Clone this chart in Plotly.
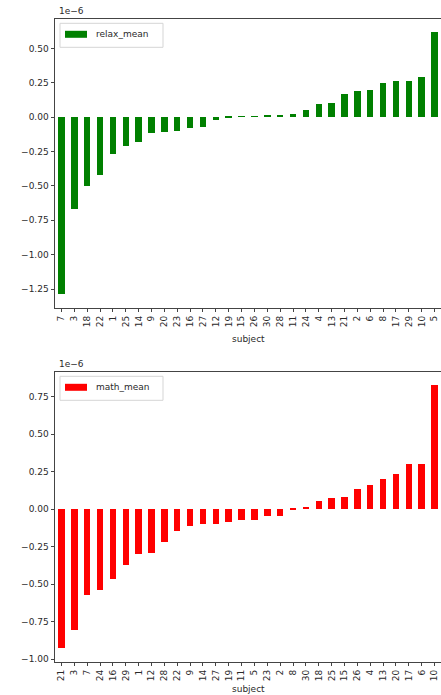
import plotly.graph_objects as go
from plotly.subplots import make_subplots

# Per-subject means, sorted ascending, in units of 1e-6
relax_subjects = ["7", "3", "18", "22", "1", "25", "14", "9", "20", "23",
                  "16", "27", "12", "19", "15", "26", "30", "28", "11", "24",
                  "4", "13", "21", "2", "6", "8", "17", "29", "10", "5"]
relax_mean = [-1.29, -0.67, -0.50, -0.42, -0.27, -0.21, -0.18, -0.12, -0.11, -0.10,
              -0.08, -0.075, -0.025, -0.003, 0.003, 0.006, 0.009, 0.012, 0.018, 0.05,
              0.094, 0.10, 0.167, 0.19, 0.193, 0.246, 0.263, 0.258, 0.29, 0.616]

math_subjects = ["21", "3", "7", "24", "16", "29", "1", "12", "28", "22",
                 "9", "14", "27", "19", "11", "5", "23", "2", "8", "30",
                 "18", "25", "15", "26", "4", "13", "20", "17", "6", "10"]
math_mean = [-0.93, -0.81, -0.573, -0.542, -0.468, -0.372, -0.301, -0.294, -0.223, -0.145,
             -0.112, -0.10, -0.10, -0.085, -0.078, -0.074, -0.051, -0.045, -0.006, 0.008,
             0.049, 0.071, 0.078, 0.129, 0.16, 0.20, 0.229, 0.296, 0.30, 0.824]

relax_ticks = [-1.25, -1.00, -0.75, -0.50, -0.25, 0.00, 0.25, 0.50]
math_ticks = [-1.00, -0.75, -0.50, -0.25, 0.00, 0.25, 0.50, 0.75]

W, H = 441, 695
ML, MR, MT, MB = 55, 0, 19, 33
PW, PH = W - ML - MR, H - MT - MB

TXT = "#2a2a2a"
LINE = "#444444"
FONT = "DejaVu Sans"

fig = make_subplots(rows=2, cols=1, vertical_spacing=0.1)

panels = [
    dict(row=1, subjects=relax_subjects, values=relax_mean, color="#008000",
         name="relax_mean", ticks=relax_ticks, top=19.3, bottom=307.7, title_shift=-24),
    dict(row=2, subjects=math_subjects, values=math_mean, color="#ff0000",
         name="math_mean", ticks=math_ticks, top=372.3, bottom=661.7, title_shift=-20),
]

for i, p in enumerate(panels):
    fig.add_trace(
        go.Bar(x=p["subjects"], y=p["values"], marker_color=p["color"],
               marker_line_width=0, width=0.5, name=p["name"], showlegend=False),
        row=p["row"], col=1,
    )
    lo, hi = min(p["values"]), max(p["values"])
    pad = 0.05 * (hi - lo)
    ax = dict(showline=True, mirror=True, linecolor=LINE, linewidth=1,
              ticks="outside", ticklen=3.5, tickwidth=0.8, tickcolor=LINE,
              showgrid=False, zeroline=False,
              tickfont=dict(family=FONT, size=9, color=TXT))
    fig.update_yaxes(range=[lo - pad, hi + pad], tickvals=p["ticks"],
                     tickformat=".2f",
                     domain=[(H - MB - p["bottom"]) / PH, (H - MB - p["top"]) / PH],
                     row=p["row"], col=1, **ax)
    fig.update_xaxes(range=[-0.5, len(p["subjects"]) - 0.5], tickangle=-90,
                     type="category", row=p["row"], col=1, **ax)

    xs = "x" if i == 0 else "x2"
    ys = "y" if i == 0 else "y2"
    xd, yd = xs + " domain", ys + " domain"
    ah = p["bottom"] - p["top"]

    def fx(px):
        return px / PW

    def fy(py):
        return 1 - py / ah

    # offset exponent label above the axes
    fig.add_annotation(xref=xd, yref=yd, x=0.005, y=1, xanchor="left",
                       yanchor="bottom", yshift=1, text="1e\u22126",
                       showarrow=False, font=dict(family=FONT, size=9, color=TXT))
    # legend frame, swatch and label
    fig.add_shape(type="rect", xref=xd, yref=yd, x0=fx(5), x1=fx(108),
                  y0=fy(28), y1=fy(4), line=dict(color="#d5d5d5", width=1),
                  fillcolor="rgba(255,255,255,0.8)", layer="above")
    fig.add_shape(type="rect", xref=xd, yref=yd, x0=fx(10), x1=fx(32),
                  y0=fy(18.5), y1=fy(11.5), line=dict(width=0),
                  fillcolor=p["color"], layer="above")
    fig.add_annotation(xref=xd, yref=yd, x=fx(39), y=fy(15), xanchor="left",
                       yanchor="middle", text=p["name"], showarrow=False,
                       font=dict(family=FONT, size=9, color=TXT))
    # x axis title
    fig.add_annotation(xref=xd, yref=yd, x=0.5, y=0, xanchor="center",
                       yanchor="top", yshift=p["title_shift"], text="subject",
                       showarrow=False, font=dict(family=FONT, size=9, color=TXT))

fig.update_layout(
    width=W, height=H,
    margin=dict(l=ML, r=MR, t=MT, b=MB),
    plot_bgcolor="white", paper_bgcolor="white",
    bargap=0, showlegend=False,
)

fig.write_html("out.html")
